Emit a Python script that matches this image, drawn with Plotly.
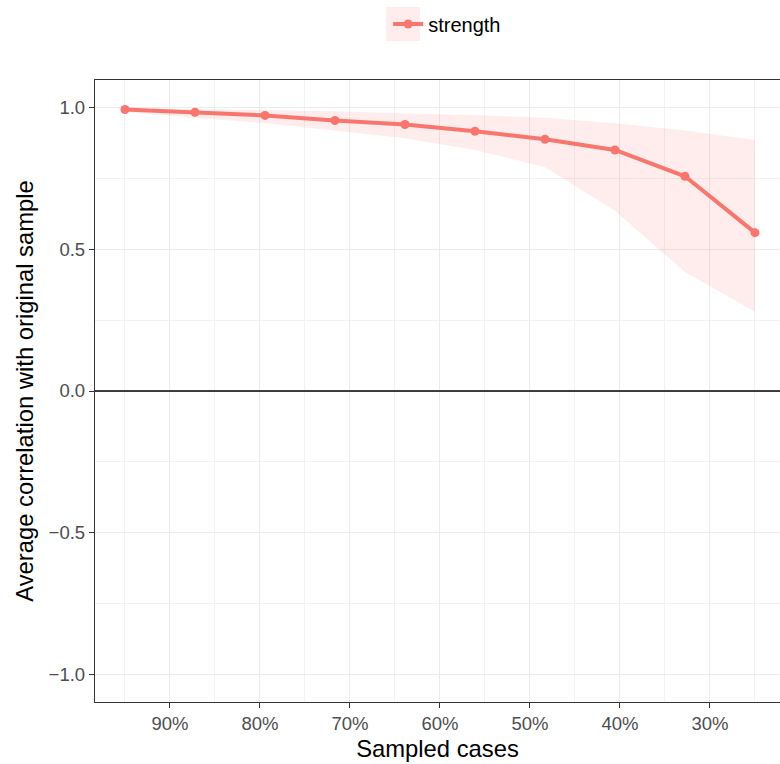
import plotly.graph_objects as go

# Data
sampled_pct = [95.0, 87.22, 79.44, 71.67, 63.89, 56.11, 48.33, 40.56, 32.78, 25.0]
mean_cor = [0.994, 0.984, 0.973, 0.955, 0.941, 0.917, 0.889, 0.851, 0.758, 0.559]
lower_q = [0.985, 0.965, 0.945, 0.920, 0.892, 0.851, 0.790, 0.636, 0.420, 0.280]
upper_q = [0.998, 0.995, 0.990, 0.988, 0.980, 0.974, 0.965, 0.945, 0.920, 0.886]
series_name = "strength"

x_tick_vals = [90, 80, 70, 60, 50, 40, 30]
x_tick_text = ["90%", "80%", "70%", "60%", "50%", "40%", "30%"]
y_tick_vals = [1.0, 0.5, 0.0, -0.5, -1.0]
y_tick_text = ["1.0", "0.5", "0.0", "\u22120.5", "\u22121.0"]

col = "#F8766D"
band = "rgba(248,118,109,0.13)"
font_family = "Arial, Liberation Sans, sans-serif"

fig = go.Figure()
fig.add_trace(go.Scatter(
    x=sampled_pct + sampled_pct[::-1],
    y=upper_q + lower_q[::-1],
    fill="toself", fillcolor=band, line=dict(width=0),
    mode="lines", showlegend=False, hoverinfo="skip",
))
fig.add_trace(go.Scatter(
    x=sampled_pct, y=mean_cor, mode="lines+markers", name=series_name,
    line=dict(color=col, width=4), marker=dict(color=col, size=9),
))

fig.add_hline(y=0, line=dict(color="black", width=1.6), layer="above")

# legend key background
fig.add_shape(type="rect", xref="paper", yref="paper",
              x0=0.4248, x1=0.4745, y0=1.0627, y1=1.1174,
              fillcolor="rgba(248,118,109,0.13)", line=dict(width=0), layer="below")

fig.update_layout(
    width=780, height=764,
    margin=dict(l=95, r=0, t=80, b=62, autoexpand=False),
    plot_bgcolor="white", paper_bgcolor="white",
    font=dict(family=font_family, color="#4D4D4D"),
    showlegend=True,
    legend=dict(orientation="h", x=0.428, xanchor="left", y=1.09, yanchor="middle",
                font=dict(size=20, color="black"), bgcolor="rgba(0,0,0,0)"),
    xaxis=dict(
        range=[98.33, 22.22], tickvals=x_tick_vals, ticktext=x_tick_text,
        tickfont=dict(size=18.5, color="#4D4D4D"),
        showgrid=True, gridcolor="#EBEBEB", gridwidth=1.3,
        minor=dict(tick0=25, dtick=10, showgrid=True, gridcolor="#F2F2F2", gridwidth=0.8),
        ticks="outside", ticklen=5, tickcolor="#333333", tickwidth=1.3,
        showline=True, linecolor="#333333", linewidth=1.3, mirror=True,
        zeroline=False, automargin=False,
        title=dict(text="Sampled cases", font=dict(size=23.8, color="black"), standoff=6),
    ),
    yaxis=dict(
        range=[-1.098, 1.098], tickvals=y_tick_vals, ticktext=y_tick_text,
        tickfont=dict(size=18.5, color="#4D4D4D"),
        showgrid=True, gridcolor="#EBEBEB", gridwidth=1.3,
        minor=dict(tick0=0.25, dtick=0.5, showgrid=True, gridcolor="#F2F2F2", gridwidth=0.8),
        ticks="outside", ticklen=5, tickcolor="#333333", tickwidth=1.3,
        showline=True, linecolor="#333333", linewidth=1.3, mirror=False,
        zeroline=False, automargin=False,
        title=dict(text="Average correlation with original sample",
                   font=dict(size=23.8, color="black"), standoff=8),
    ),
)

fig.write_html("out.html", config={"displayModeBar": False},
               post_script="document.body.style.margin='0';")
